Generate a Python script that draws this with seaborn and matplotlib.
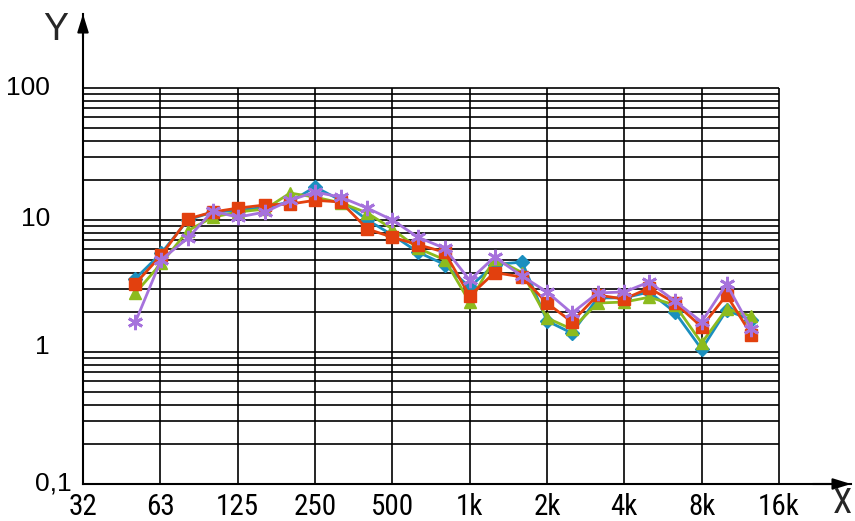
import numpy as np
import pandas as pd
import matplotlib
matplotlib.use("Agg")
import matplotlib.pyplot as plt
import seaborn as sns

# 1/3-octave band centre frequencies (Hz)
freqs = [50, 63, 80, 100, 125, 160, 200, 250, 315, 400, 500, 630, 800,
         1000, 1250, 1600, 2000, 2500, 3150, 4000, 5000, 6300, 8000, 10000, 12500]

series_blue = [3.6, 5.6, 10.0, 11.5, 11.8, 12.5, 13.7, 17.8, 14.1, 10.0, 7.7, 5.7, 4.6,
               3.1, 4.6, 4.8, 1.72, 1.39, 2.57, 2.57, 2.85, 2.0, 1.05, 2.07, 1.75]
series_green = [2.8, 4.7, 8.3, 10.5, 11.5, 12.1, 16.0, 14.9, 13.5, 11.3, 8.55, 6.1, 5.0,
                2.39, 5.1, 4.0, 1.81, 1.49, 2.35, 2.39, 2.6, 2.27, 1.17, 2.12, 1.87]
series_red = [3.3, 5.4, 10.2, 11.5, 12.3, 13.0, 13.2, 14.1, 13.7, 8.55, 7.4, 6.5, 5.7,
              2.66, 4.0, 3.7, 2.35, 1.69, 2.7, 2.52, 3.05, 2.35, 1.55, 2.7, 1.35]
series_purple = [1.69, 5.0, 7.3, 11.7, 10.5, 11.5, 14.1, 16.3, 14.9, 12.3, 10.0, 7.4, 6.1,
                 3.5, 5.25, 3.76, 2.85, 1.97, 2.8, 2.85, 3.39, 2.43, 1.69, 3.27, 1.49]

x_ticks = [31.25, 62.5, 125, 250, 500, 1000, 2000, 4000, 8000, 16000]
x_labels = ["32", "63", "125", "250", "500", "1k", "2k", "4k", "8k", "16k"]
y_ticks = [0.1, 1, 10, 100]
y_labels = ["0,1", "1", "10", "100"]

sns.set_theme(style="white")
plt.rcParams["font.family"] = ["Liberation Sans", "DejaVu Sans"]
narrow = ["Roboto Condensed", "Liberation Sans", "DejaVu Sans"]

fig = plt.figure(figsize=(8.55, 5.21), dpi=100)
W, H = 855, 521
ax = fig.add_axes([83 / W, 37 / H, (851 - 83) / W, (484 - 14) / H])
ax.set_xscale("log", base=2)
ax.set_yscale("log")
ax.set_xlim(31.25, 31.25 * 2 ** ((851 - 83) / 77.33))
ax.set_ylim(0.1, 10 ** (-1 + (484 - 14) / 132.0))

# grid drawn only within the 32 Hz..16 kHz / 0.1..100 frame
grid_y = [m * 10.0 ** e for e in (-1, 0, 1) for m in range(1, 10)] + [100]
ax.hlines(grid_y, 31.25, 16000, colors="black", linewidth=1.2, zorder=1)
ax.vlines(x_ticks[1:], 0.1, 100, colors="black", linewidth=1.2, zorder=1)

styles = {
    "blue": ("#1a8fbf", "D", 7),
    "green": ("#8cbb1e", "^", 9),
    "red": ("#e2400e", "s", 9),
    "purple": ("#a672dc", (6, 2, 0), 11),
}
data = {"blue": series_blue, "green": series_green,
        "red": series_red, "purple": series_purple}

for i, (name, vals) in enumerate(data.items()):
    color, marker, ms = styles[name]
    df = pd.DataFrame({"freq": freqs, "value": vals})
    sns.lineplot(data=df, x="freq", y="value", ax=ax, color=color,
                 linewidth=2.0, marker=marker, markersize=ms,
                 markeredgecolor=color, markerfacecolor=color,
                 markeredgewidth=2.0 if name == "purple" else 1.0,
                 zorder=3 + i)

ax.set_xlabel("")
ax.set_ylabel("")
for s in ("top", "right"):
    ax.spines[s].set_visible(False)
for s in ("left", "bottom"):
    ax.spines[s].set_color("black")
    ax.spines[s].set_linewidth(1.5)

arrow = dict(arrowstyle="-|>,head_length=0.9,head_width=0.28",
             color="black", lw=1.5, shrinkA=0, shrinkB=0)
ax.annotate("", xy=(1.0, 0), xytext=(0.95, 0), xycoords="axes fraction", arrowprops=arrow)
ax.annotate("", xy=(0, 1.0), xytext=(0, 0.95), xycoords="axes fraction", arrowprops=arrow)

ax.set_xticks(x_ticks)
ax.set_xticklabels(x_labels, family=narrow, fontsize=21)
ax.set_yticks(y_ticks)
ax.set_yticklabels([])
ax.minorticks_off()
ax.tick_params(axis="both", length=0, colors="black")
ax.tick_params(axis="x", pad=6.5)

# y labels: decade labels set back from the axis, "0,1" close to it
label_shift = {"0,1": (-11, 1), "1": (-33, 5), "10": (-33, 1), "100": (-33, 0)}
for val, lab in zip(y_ticks, y_labels):
    dx, dy = label_shift[lab]
    ax.annotate(lab, xy=(0, val), xycoords=("axes fraction", "data"),
                xytext=(dx, dy), textcoords="offset pixels",
                ha="right", va="center", fontsize=19, color="black")

fig.text(55.5 / W, 1 - 40 / H, "Y", fontsize=27, ha="center", va="baseline")
fig.text(842 / W, 1 / H, "X", fontsize=25, ha="center", va="bottom",
         family=narrow)

fig.savefig("out.png", dpi=100)
